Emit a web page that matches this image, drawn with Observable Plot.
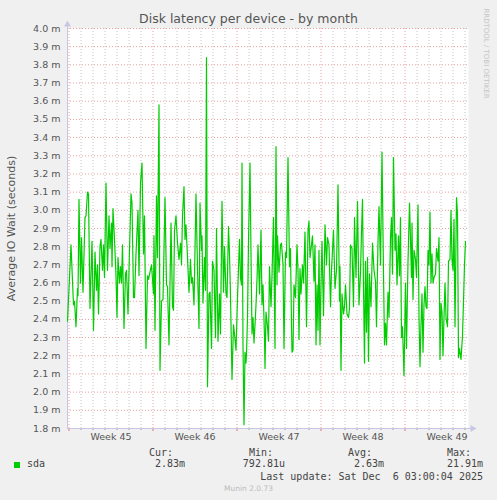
<!DOCTYPE html>
<html>
<head>
<meta charset="utf-8">
<script src="https://cdn.jsdelivr.net/npm/d3@7"></script>
<script src="https://cdn.jsdelivr.net/npm/@observablehq/plot@0.6"></script>
<style>
  html, body { margin: 0; padding: 0; background: #f0f0f0; }
  #wrap { position: relative; width: 497px; height: 500px; overflow: hidden; font-family: "DejaVu Sans", sans-serif; color: #555; }
  .abs { position: absolute; white-space: pre; }
  .mono { font-family: "DejaVu Sans Mono", monospace; font-size: 10px; line-height: 12px; color: #444; }
</style>
</head>
<body>
<div id="wrap">
  <div id="chart" class="abs" style="left:0;top:0;"></div>
</div>
<script>
// ---- chart texts ----
const title = "Disk latency per device - by month";
const yLabel = "Average IO Wait (seconds)";
const sideLabel = "RRDTOOL / TOBI OETIKER";
const footer = "Munin 2.0.73";
const seriesName = "sda";
const statHeads = ["Cur:", "Min:", "Avg:", "Max:"];
const statValues = ["2.83m", "792.81u", "2.63m", "21.91m"];
const lastUpdate = "Last update: Sat Dec  6 03:00:04 2025";

// ---- axes (time in hours since Mon 3 Nov 2025 00:00, latency in ms) ----
const xDomain = [-3, 799];
const yDomain = [1.8, 4.0];
const yTicks = [1.8,1.9,2.0,2.1,2.2,2.3,2.4,2.5,2.6,2.7,2.8,2.9,3.0,3.1,3.2,3.3,3.4,3.5,3.6,3.7,3.8,3.9,4.0];
const weekStarts = [0, 168, 336, 504, 672];
const weekCenters = [84, 252, 420, 588, 756];
const weekLabels = ["Week 45", "Week 46", "Week 47", "Week 48", "Week 49"];
const dayLines = [24,48,72,96,120,144,192,216,240,264,288,312,360,384,408,432,456,480,528,552,576,600,624,648,696,720,744,768,792];

// ---- series: sda average IO wait (ms) ----
const hours = [-3,4,9,11,14,17,18,20,23,25,28,32,34,37,39,42,46,49,52,55,57,59,62,64,67,69,71,74,77,80,82,85,86,88,91,94,96,98,101,103,105,107,110,113,115,118,121,124,126,129,131,134,138,140,143,146,149,151,154,157,159,
165,169,170,172,175,177,180,182,185,188,192,195,197,200,204,207,209,211,214,217,220,223,225,227,230,232,234,237,240,243,245,247,250,254,257,260,262,265,266,268,271,273,275,277,280,282,285,287,290,293,295,298,301,303,306,309,311,314,316,319,321,323,326,329,331,334,337,
341,343,345,346,348,350,352,354,355,357,359,362,364,366,368,370,372,374,376,378,381,384,386,388,391,392,394,397,399,401,404,406,409,412,414,416,417,420,423,425,428,430,433,435,438,441,443,445,446,448,450,453,456,458,460,462,464,467,469,472,475,478,480,482,485,487,490,492,494,496,498,500,502,504,506,509,512,515,
517,520,523,525,529,532,535,538,541,542,544,546,549,551,553,556,559,561,563,566,569,571,574,577,580,583,585,587,589,591,593,595,597,599,601,604,607,610,613,615,618,620,623,626,629,631,633,635,638,640,643,645,647,649,652,654,656,659,661,663,665,667,670,673,675,678,681,
685,686,688,690,693,695,698,700,702,704,706,708,710,712,714,716,718,720,722,724,726,728,730,733,735,738,740,742,744,746,748,750,752,754,757,759,762,764,766,768,770,772,775,777,779,781,784,787,789,791,793];
const latency = [2.39,2.81,2.48,2.50,2.36,2.57,2.53,3.06,2.60,2.85,2.55,2.96,2.97,3.10,3.09,2.46,2.83,2.34,2.77,2.56,2.70,2.43,2.80,2.84,2.67,2.81,2.63,3.15,2.67,2.97,2.79,2.93,2.69,3.01,2.84,2.64,2.41,2.74,2.60,2.69,2.60,2.81,2.35,2.65,2.67,2.43,2.78,3.09,3.04,2.52,2.52,2.76,3.00,2.64,3.15,3.26,2.76,2.97,2.24,2.64,2.62,
2.70,2.54,2.86,2.34,3.08,2.74,3.58,2.12,2.50,2.51,3.07,2.59,2.58,2.26,2.93,2.47,2.45,2.89,2.97,2.82,2.73,2.82,2.70,2.97,3.13,2.84,2.92,2.74,2.55,2.73,2.60,2.63,2.48,3.09,2.68,2.35,3.04,2.78,2.86,2.49,2.74,2.56,3.84,2.03,2.54,2.55,2.24,2.72,2.67,2.30,2.90,2.28,2.54,2.32,3.05,2.55,2.80,2.54,2.52,2.91,2.76,2.53,2.07,2.37,2.32,2.23,2.52,
2.84,2.63,2.59,3.26,2.26,1.82,2.22,2.16,2.21,2.41,2.83,3.26,2.76,2.32,2.41,2.27,2.37,2.48,2.62,2.81,2.54,2.89,2.48,2.59,2.30,2.13,2.44,2.36,2.28,2.69,2.47,2.64,2.96,2.24,3.35,2.59,2.86,2.66,2.81,2.82,2.70,2.24,2.77,2.74,3.29,2.69,2.79,2.37,2.22,2.23,2.59,2.52,2.81,2.67,2.29,2.68,2.54,2.70,2.60,2.88,2.36,2.89,2.94,2.74,2.81,2.86,2.61,2.81,2.26,2.59,2.34,2.78,2.26,2.59,2.83,2.42,2.92,2.70,
2.85,2.81,2.47,2.67,2.89,2.57,2.67,3.14,2.50,2.69,2.12,2.54,2.43,2.47,2.59,2.43,2.41,2.46,2.81,2.79,2.47,2.96,2.63,3.05,2.48,2.66,2.88,3.06,2.58,2.16,2.72,2.33,2.74,2.17,2.65,2.47,2.82,2.67,2.61,2.36,2.83,3.02,2.70,3.32,2.65,2.26,2.38,2.26,2.55,2.41,2.85,2.96,2.65,3.29,2.78,2.87,2.59,2.86,2.64,2.96,2.30,2.36,2.09,2.60,2.24,2.72,3.04,
2.63,2.93,2.51,2.78,2.73,2.63,3.03,2.41,2.14,2.37,2.54,2.22,2.48,2.58,2.47,2.46,2.78,2.70,2.99,2.60,2.76,2.60,2.63,2.65,2.79,2.72,2.85,2.18,2.49,2.44,2.20,2.41,2.60,2.41,2.36,2.72,2.73,3.00,2.73,2.67,2.95,2.36,3.07,2.98,2.19,2.24,2.18,2.31,2.50,2.70,2.83];

const series = hours.map((h, i) => ({h, v: latency[i]}));

const redGrid = "#eaa0a0";
const grayGrid = "#c4c4c4";
const axisColor = "#c8c8e6";
const lineColor = "#00cc00";

const chart = Plot.plot({
  width: 497,
  height: 445,
  marginTop: 28,
  marginBottom: 17,
  marginLeft: 67,
  marginRight: 29,
  x: {domain: xDomain},
  y: {domain: yDomain},
  style: {background: "transparent", fontFamily: "DejaVu Sans", color: "#555", overflow: "visible"},
  marks: [
    Plot.frame({fill: "white", stroke: "none"}),
    Plot.gridX(dayLines, {stroke: grayGrid, strokeOpacity: 1, strokeDasharray: "1,2"}),
    Plot.gridY(yTicks, {stroke: redGrid, strokeOpacity: 1, strokeDasharray: "1,2"}),
    Plot.gridX(weekStarts, {stroke: redGrid, strokeOpacity: 1, strokeDasharray: "1,2"}),
    Plot.axisX(dayLines, {tickSize: 2, stroke: "#999", tickFormat: () => "", label: null}),
    Plot.axisX(weekStarts, {tickSize: 3, stroke: "#e07070", tickFormat: () => "", label: null}),
    Plot.axisX(weekCenters, {tickSize: 0, tickPadding: 5, fontSize: 9.5, fill: "#555",
      tickFormat: d => weekLabels[weekCenters.indexOf(d)], label: null}),
    Plot.axisY(yTicks, {tickSize: 0, tickPadding: 7, fontSize: 9.5, fill: "#555",
      tickFormat: d => d.toFixed(1) + " m", label: null}),
    Plot.ruleY([yDomain[0]], {x1: xDomain[0], x2: xDomain[1] + 6, stroke: axisColor}),
    Plot.ruleX([xDomain[0]], {y1: yDomain[0], y2: yDomain[1] + 0.02, stroke: axisColor}),
    Plot.dot([0], {x: () => xDomain[0], y: () => yDomain[1] + 0.022, symbol: "triangle", r: 2.6, fill: axisColor, stroke: "none"}),
    Plot.dot([0], {x: () => xDomain[1] + 8, y: () => yDomain[0], symbol: "triangle", r: 2.6, rotate: 90, fill: axisColor, stroke: "none"}),
    Plot.line(series, {x: "h", y: "v", stroke: lineColor, strokeWidth: 1.2}),
    Plot.text([yLabel], {text: d => d, frameAnchor: "left", textAnchor: "middle", dx: -56, rotate: -90, fontSize: 11, fill: "#555"}),
    Plot.text([sideLabel], {text: d => d, frameAnchor: "top-right", textAnchor: "middle", dx: 20, dy: 25, rotate: 90, fontSize: 7, fill: "#c4c4c4"})
  ]
});
document.getElementById("chart").appendChild(chart);

// ---- title & legend (HTML around the SVG) ----
const wrap = document.getElementById("wrap");
function addText(txt, css, cls) {
  const d = document.createElement("div");
  d.className = "abs " + (cls || "");
  d.textContent = txt;
  d.setAttribute("style", css);
  wrap.appendChild(d);
  return d;
}
addText(title, "left:0;top:12px;width:497px;text-align:center;font-size:12.5px;line-height:14px;color:#555;");
// legend swatch
const sw = document.createElement("div");
sw.className = "abs";
sw.setAttribute("style", "left:14px;top:462px;width:6px;height:6px;background:" + lineColor + ";");
wrap.appendChild(sw);
addText(seriesName, "left:27px;top:458px;", "mono");
const headLeft = [149, 249, 348, 447];
const valRight = [185, 285, 384, 483];
statHeads.forEach((h, i) => addText(h, "left:" + headLeft[i] + "px;top:447px;", "mono"));
statValues.forEach((v, i) => addText(v, "left:0;width:" + valRight[i] + "px;text-align:right;top:458px;", "mono"));
addText(lastUpdate, "left:0;width:483px;text-align:right;top:471px;", "mono");
addText(footer, "left:0;top:484px;width:497px;text-align:center;font-size:7.5px;line-height:10px;color:#bbb;");
</script>
</body>
</html>
